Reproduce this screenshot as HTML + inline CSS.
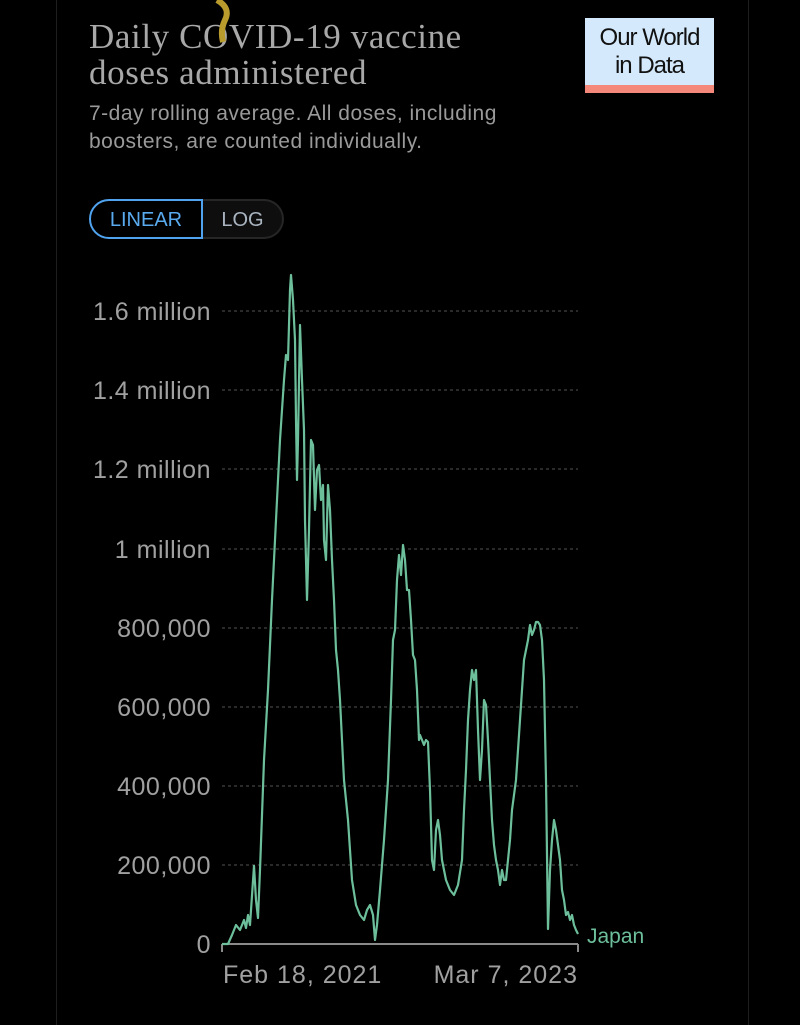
<!DOCTYPE html>
<html><head><meta charset="utf-8"><style>
html,body{margin:0;padding:0;background:#000;width:800px;height:1025px;overflow:hidden;font-family:"Liberation Sans",sans-serif}
.t{position:absolute;left:89px;top:19px;font-family:"Liberation Serif",serif;font-size:35px;line-height:36px;color:#a8a8a8;letter-spacing:0.6px}
.s{position:absolute;left:89px;top:100px;font-size:21px;line-height:28px;color:#9a9a9a;letter-spacing:0.5px}
.logo{position:absolute;left:585px;top:18px;width:129px;height:75px;background:#d4e9fb}
.logo div{position:absolute;left:0;right:0;top:6px;text-align:center;font-size:24px;line-height:28px;color:#111;letter-spacing:-1px}
.logo i{position:absolute;left:0;right:0;bottom:0;height:8px;background:#f4897b}
.btn{position:absolute;top:199px;height:40px;box-sizing:border-box;font-size:20px;line-height:38px;text-align:center}
</style></head><body>
<div style="position:absolute;left:56px;top:0;width:1px;height:1025px;background:#1e1e1e"></div>
<div style="position:absolute;left:748px;top:0;width:1px;height:1025px;background:#1e1e1e"></div>
<div class="t">Daily COVID-19 vaccine<br>doses administered</div>
<svg style="position:absolute;left:205px;top:0" width="30" height="50"><path d="M12 0 Q26 8 20 20 Q15 30 18 42" stroke="#b89b2c" stroke-width="6" fill="none"/></svg>
<div class="s">7-day rolling average. All doses, including<br>boosters, are counted individually.</div>
<div class="logo"><div>Our World<br>in Data</div><i></i></div>
<div class="btn" style="left:89px;width:114px;border:2px solid #4fa3ef;border-radius:20px 0 0 20px;color:#5aaaf0">LINEAR</div>
<div class="btn" style="left:203px;width:81px;border:2px solid #262626;border-left:none;border-radius:0 20px 20px 0;background:#0e0e0e;color:#a9b4c0">LOG</div>
<svg style="position:absolute;left:0;top:0" width="800" height="1025">
<g stroke="#555" stroke-dasharray="3,3" stroke-width="1">
<line x1="222" x2="578" y1="865" y2="865"/><line x1="222" x2="578" y1="786" y2="786"/><line x1="222" x2="578" y1="707" y2="707"/><line x1="222" x2="578" y1="628" y2="628"/><line x1="222" x2="578" y1="549" y2="549"/><line x1="222" x2="578" y1="469" y2="469"/><line x1="222" x2="578" y1="390" y2="390"/><line x1="222" x2="578" y1="311" y2="311"/>
</g>
<g font-size="25" fill="#a0a0a0" text-anchor="end" letter-spacing="0.5">
<text x="211" y="953">0</text><text x="211" y="874">200,000</text><text x="211" y="795">400,000</text><text x="211" y="716">600,000</text><text x="211" y="637">800,000</text><text x="211" y="558">1 million</text><text x="211" y="478">1.2 million</text><text x="211" y="399">1.4 million</text><text x="211" y="320">1.6 million</text>
</g>
<path d="M222 944H578M222 944v8M578 944v8" stroke="#8a8a8a" stroke-width="2" fill="none"/>
<g font-size="25" fill="#a0a0a0" letter-spacing="1"><text x="223" y="983">Feb 18, 2021</text><text x="578" y="983" text-anchor="end">Mar 7, 2023</text></g>
<polyline fill="none" stroke="#6cbf9a" stroke-width="2.2" stroke-linejoin="round" points="222,944 228,944 232,935 236,925 240,930 244,920 246,928 248,915 250,925 254,866 256,900 258,918 260,870 264,760 268,690 272,600 276,520 280,440 284,380 286,355 288,360 290,290 291,275 293,300 295,340 296,420 297,480 298,440 300,325 302,380 304,430 305,520 307,600 309,530 311,440 313,445 315,510 317,470 319,465 321,500 323,485 324,540 326,560 328,485 330,510 332,560 334,600 336,650 338,670 340,700 342,740 344,780 346,800 348,820 350,850 352,880 356,905 360,915 364,920 367,910 370,905 373,915 375,940 377,925 380,890 384,840 388,780 391,700 393,640 395,630 397,580 399,555 401,575 403,545 405,560 407,590 409,590 411,620 413,655 415,660 417,690 419,740 420,735 422,740 424,745 426,740 428,742 430,790 432,860 434,870 436,830 438,820 440,835 442,860 444,870 446,880 450,890 454,895 458,885 462,860 464,810 466,770 468,720 470,690 472,670 474,680 476,670 478,730 480,780 482,750 484,700 486,705 488,740 490,780 492,820 494,845 496,860 498,870 500,885 502,870 504,880 506,880 508,860 510,840 512,810 516,780 520,720 524,660 528,640 530,625 532,635 534,630 536,622 538,622 540,625 542,640 544,680 546,780 548,929 550,870 552,840 554,820 556,830 558,845 560,860 562,890 564,900 566,915 568,912 570,920 572,915 574,925 576,930 578,934"/>
<text x="587" y="943" font-size="21" fill="#6cbf9a">Japan</text>
</svg>
</body></html>
